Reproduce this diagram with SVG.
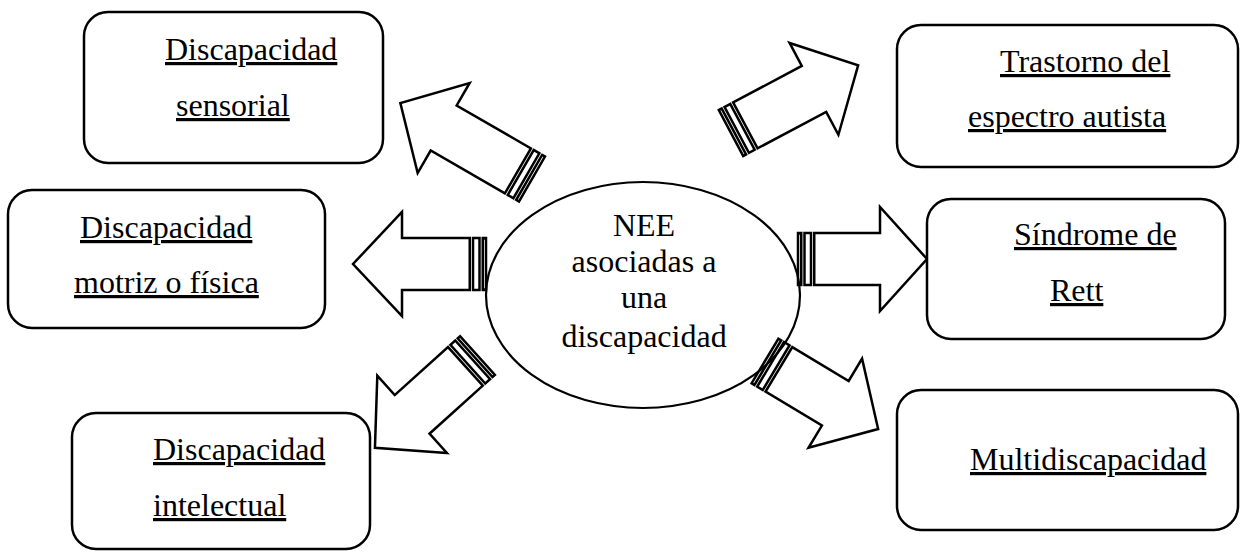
<svg xmlns="http://www.w3.org/2000/svg" width="1243" height="551" viewBox="0 0 1243 551">
<style>
.box{fill:#fff;stroke:#000;stroke-width:2.5}
.arr{fill:#fff;stroke:#000;stroke-width:2.5;stroke-linejoin:miter}
.lbl{font-family:"Liberation Serif","Times New Roman",serif;font-size:32px;fill:#000;text-decoration:underline}
.ctr{font-family:"Liberation Serif","Times New Roman",serif;font-size:32px;fill:#000;text-anchor:middle}
</style>
<rect width="1243" height="551" fill="#fff"/>
<g id="connectors">
  <g transform="translate(532,179) rotate(210)">
    <rect class="arr" x="0" y="-26" width="3.25" height="52"/>
    <rect class="arr" x="6.5" y="-26" width="6.5" height="52"/>
    <path class="arr" d="M16.25,-26 H102 V-52 L152,0 L102,52 V26 H16.25 Z"/>
  </g>
  <g transform="translate(731,133) rotate(-28)">
    <rect class="arr" x="0" y="-26" width="3.25" height="52"/>
    <rect class="arr" x="6.5" y="-26" width="6.5" height="52"/>
    <path class="arr" d="M16.25,-26 H94 V-52 L144,0 L94,52 V26 H16.25 Z"/>
  </g>
  <g transform="translate(486,264) rotate(180)">
    <rect class="arr" x="0" y="-26" width="3.25" height="52"/>
    <rect class="arr" x="6.5" y="-26" width="6.5" height="52"/>
    <path class="arr" d="M16.25,-26 H84 V-52 L133,0 L84,52 V26 H16.25 Z"/>
  </g>
  <g transform="translate(798,259)">
    <rect class="arr" x="0" y="-26" width="3.25" height="52"/>
    <rect class="arr" x="6.5" y="-26" width="6.5" height="52"/>
    <path class="arr" d="M16.25,-26 H82 V-52 L129,0 L82,52 V26 H16.25 Z"/>
  </g>
  <g transform="translate(477.5,355.5) rotate(138)">
    <rect class="arr" x="0" y="-26" width="3.25" height="52"/>
    <rect class="arr" x="6.5" y="-26" width="6.5" height="52"/>
    <path class="arr" d="M16.25,-26 H88 V-52 L138,0 L88,52 V26 H16.25 Z"/>
  </g>
  <g transform="translate(765,361) rotate(31)">
    <rect class="arr" x="0" y="-26" width="3.25" height="52"/>
    <rect class="arr" x="6.5" y="-26" width="6.5" height="52"/>
    <path class="arr" d="M16.25,-26 H82 V-52 L132,0 L82,52 V26 H16.25 Z"/>
  </g>
</g>
<g id="center">
  <ellipse cx="643" cy="295" rx="157" ry="113" fill="none" stroke="#000" stroke-width="2.2"/>
  <text class="ctr" x="644" y="236">NEE</text>
  <text class="ctr" x="644" y="272">asociadas a</text>
  <text class="ctr" x="644" y="308">una</text>
  <text class="ctr" x="644" y="347">discapacidad</text>
</g>
<g id="sensorial">
  <rect class="box" x="84" y="12" width="299" height="151" rx="24"/>
  <text class="lbl" x="165" y="60">Discapacidad</text>
  <text class="lbl" x="176" y="116">sensorial</text>
</g>
<g id="autista">
  <rect class="box" x="897" y="25" width="341" height="142" rx="24"/>
  <text class="lbl" x="1000" y="72">Trastorno del</text>
  <text class="lbl" x="968" y="127">espectro autista</text>
</g>
<g id="motriz">
  <rect class="box" x="8" y="190" width="317" height="138" rx="24"/>
  <text class="lbl" x="80" y="238">Discapacidad</text>
  <text class="lbl" x="74" y="293">motriz o física</text>
</g>
<g id="rett">
  <rect class="box" x="927" y="199" width="298" height="140" rx="24"/>
  <text class="lbl" x="1014" y="245">Síndrome de</text>
  <text class="lbl" x="1050" y="301">Rett</text>
</g>
<g id="intelectual">
  <rect class="box" x="72" y="413" width="298" height="136" rx="24"/>
  <text class="lbl" x="153" y="460">Discapacidad</text>
  <text class="lbl" x="153" y="516">intelectual</text>
</g>
<g id="multi">
  <rect class="box" x="897" y="390" width="341" height="140" rx="24"/>
  <text class="lbl" x="970" y="470">Multidiscapacidad</text>
</g>
</svg>
